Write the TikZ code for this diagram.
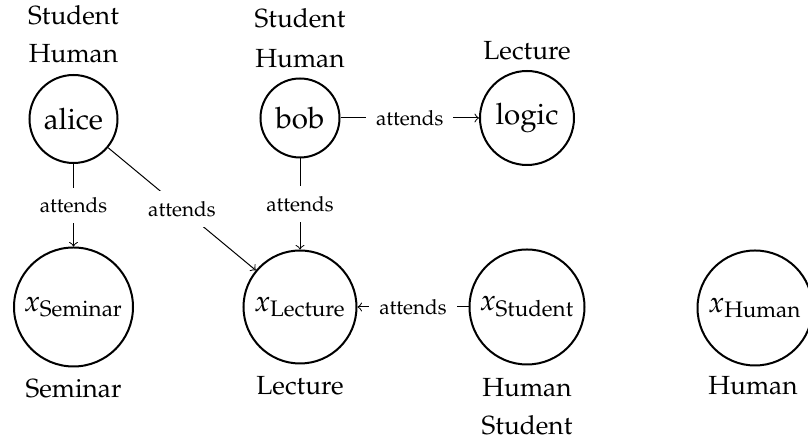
\documentclass[tikz,border=0pt]{standalone}
\usepackage{amsmath}
\usepackage[T1]{fontenc}
\usepackage{mathpazo}
\begin{document}
\begin{tikzpicture}[x=0.4pt,y=-0.4pt,
  ent/.style={circle,draw,line width=0.8pt,inner sep=0pt,font=\fontsize{11.8}{14}\selectfont},
  tlbl/.style={anchor=base,inner sep=0pt,font=\fontsize{10.5}{12}\selectfont},
  rel/.style={->,line width=0.4pt},
  elbl/.style={fill=white,inner sep=4pt,font=\fontsize{8.3}{10}\selectfont}]
\useasboundingbox (0,0) rectangle (808,444);
% entities
\node[ent,minimum size=35.2pt] (alice) at (73.5,119) {alice};
\node[ent,minimum size=31.6pt] (bob) at (300,118) {bob};
\node[ent,minimum size=37.6pt] (logic) at (527,118) {logic};
\node[ent,minimum size=47.6pt] (xsem) at (73.5,307) {$x_{\text{Seminar}}$};
\node[ent,minimum size=45.2pt] (xlec) at (300,307) {$x_{\text{Lecture}}$};
\node[ent,minimum size=46pt] (xstu) at (527,307) {$x_{\text{Student}}$};
\node[ent,minimum size=46pt] (xhum) at (755,308) {$x_{\text{Human}}$};
% type labels
\node[tlbl] (aS) at (73.5,25) {Student};
\node[tlbl] (aH) at (73.5,63) {Human};
\node[tlbl] (bS) at (300,28) {Student};
\node[tlbl] (bH) at (300,68) {Human};
\node[tlbl] (lL) at (527,60) {Lecture};
\node[tlbl] (sS) at (73.5,398) {Seminar};
\node[tlbl] (cL) at (300,395) {Lecture};
\node[tlbl] (tH) at (527,397) {Human};
\node[tlbl] (tS) at (527,435) {Student};
\node[tlbl] (hH) at (753,395) {Human};
% relations
\draw[rel] (alice) -- node[elbl] (e1) {attends} (xsem);
\draw[rel] (alice) -- node[elbl] (e2) {attends} (xlec);
\draw[rel] (bob) -- node[elbl] (e3) {attends} (xlec);
\draw[rel] (bob) -- node[elbl] (e4) {attends} (logic);
\draw[rel] (xstu) -- node[elbl] (e5) {attends} (xlec);
\end{tikzpicture}
\end{document}
